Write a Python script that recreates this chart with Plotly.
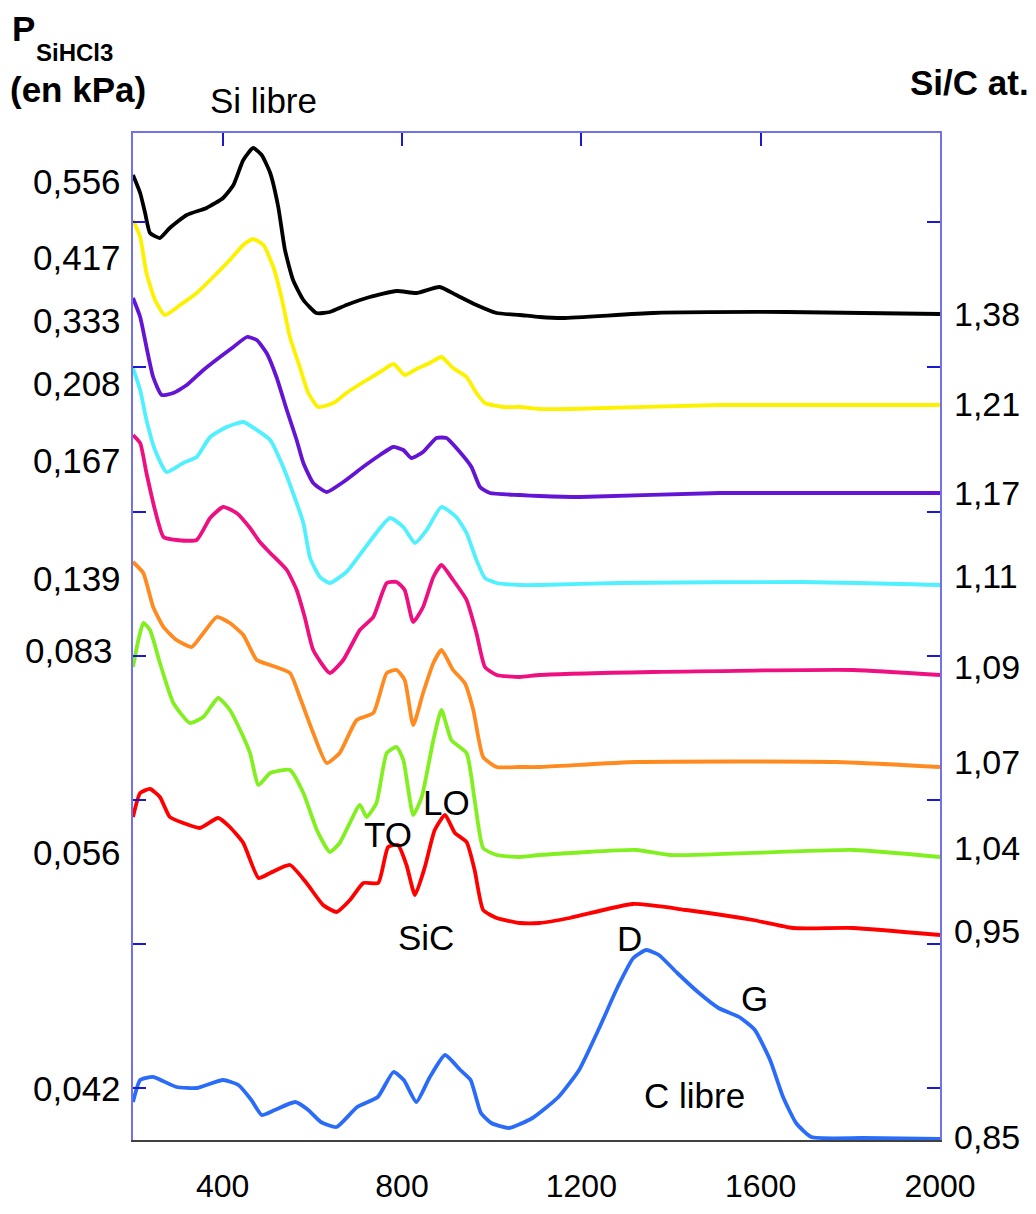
import plotly.graph_objects as go

# Raman spectra, stacked (wavenumber in cm-1, intensity in arbitrary units incl. offset)
x_138 = [200, 216, 227, 238, 260, 282, 320, 364, 401, 424, 446, 468, 487, 506, 524, 539, 557, 580, 609,
         639, 676, 728, 788, 832, 884, 921, 966, 1011, 1063, 1107, 1159, 1360, 1657, 2000]
y_138 = [965, 947, 927, 907, 902, 912, 925, 932, 942, 955, 980, 992, 985, 967, 933, 890, 860, 840, 827,
         828, 835, 843, 849, 847, 853, 845, 835, 827, 825, 823, 822, 827, 828, 826]

x_121 = [200, 216, 230, 249, 271, 305, 342, 379, 416, 446, 468, 491, 513, 531, 550, 572, 591, 613, 647,
         676, 714, 751, 781, 806, 832, 862, 888, 914, 944, 966, 985, 1026, 1063, 1107, 1174, 1509, 2000]
y_121 = [920, 903, 867, 840, 825, 835, 847, 863, 880, 895, 901, 895, 873, 843, 803, 773, 747, 733, 737,
         747, 758, 768, 776, 765, 771, 777, 783, 772, 763, 747, 737, 733, 733, 731, 731, 735, 735]

x_117 = [200, 216, 230, 245, 264, 290, 320, 357, 394, 424, 454, 476, 498, 520, 543, 565, 580, 602, 632,
         669, 713, 751, 780, 803, 821, 847, 877, 899, 929, 955, 974, 996, 1063, 1107, 1197, 1509, 2000]
y_117 = [842, 823, 793, 763, 745, 747, 755, 770, 783, 793, 803, 800, 787, 763, 730, 700, 677, 657, 648,
         658, 673, 685, 693, 690, 682, 688, 702, 702, 688, 673, 653, 647, 645, 644, 643, 647, 647]

x_111 = [200, 216, 230, 249, 275, 312, 342, 372, 409, 446, 476, 506, 535, 557, 580, 595, 617, 639, 676,
         714, 773, 803, 829, 855, 888, 921, 944, 966, 985, 1011, 1063, 1107, 1286, 1694, 2000]
y_111 = [772, 750, 720, 690, 668, 677, 683, 703, 713, 718, 710, 700, 673, 647, 617, 582, 563, 557, 568,
         590, 622, 613, 597, 610, 633, 623, 607, 580, 562, 557, 555, 555, 557, 558, 555]

x_109 = [200, 216, 230, 249, 268, 297, 342, 372, 401, 431, 461, 483, 506, 543, 565, 583, 602, 639, 669,
         706, 736, 766, 788, 806, 825, 847, 870, 888, 914, 944, 966, 985, 1011, 1063, 1107, 1360, 1806, 2000]
y_109 = [705, 697, 667, 630, 603, 600, 600, 622, 633, 627, 612, 598, 587, 570, 550, 523, 490, 467, 480,
         510, 523, 557, 558, 550, 518, 533, 563, 575, 560, 540, 507, 473, 465, 463, 465, 468, 470, 465]

x_107 = [200, 223, 245, 268, 297, 331, 357, 387, 416, 446, 476, 506, 550, 572, 602, 632, 661, 699, 736,
         766, 788, 806, 825, 847, 870, 888, 914, 940, 959, 981, 1011, 1063, 1107, 1323, 1769, 2000]
y_107 = [578, 567, 533, 513, 500, 493, 507, 523, 517, 505, 480, 475, 467, 443, 407, 377, 387, 420, 427,
         467, 470, 460, 415, 447, 477, 490, 470, 457, 430, 383, 373, 373, 373, 378, 378, 373]

x_104 = [200, 212, 223, 238, 260, 290, 327, 357, 390, 416, 439, 461, 480, 506, 550, 580, 610, 639, 661,
         706, 721, 743, 766, 788, 803, 825, 844, 870, 888, 910, 944, 962, 981, 1011, 1063, 1107, 1323, 1397,
         1806, 2000]
y_104 = [473, 500, 517, 510, 477, 437, 417, 423, 442, 430, 410, 387, 355, 367, 370, 347, 310, 288, 297,
         335, 323, 337, 387, 393, 380, 325, 343, 400, 430, 400, 387, 340, 292, 285, 283, 285, 290, 285,
         290, 283]

x_095 = [200, 216, 238, 260, 282, 312, 349, 390, 416, 446, 480, 506, 550, 587, 624, 654, 684, 714, 747,
         769, 791, 810, 829, 851, 873, 896, 918, 944, 962, 981, 1011, 1063, 1107, 1174, 1315, 1434, 1583,
         1672, 1806, 2000]
y_095 = [323, 347, 351, 343, 323, 317, 312, 322, 313, 297, 262, 267, 275, 257, 235, 228, 240, 257, 257,
         293, 295, 275, 245, 273, 310, 325, 307, 298, 270, 230, 222, 217, 217, 222, 236, 230, 220,
         212, 212, 205]

x_085 = [200, 216, 245, 297, 343, 401, 435, 464, 487, 516, 562, 591, 619, 654, 700, 746, 781, 804, 832,
         861, 896, 930, 953, 976, 999, 1039, 1091, 1149, 1195, 1241, 1281, 1316, 1345, 1373, 1414, 1460,
         1506, 1552, 1587, 1621, 1650, 1679, 1713, 1828, 2000]
y_085 = [38, 60, 63, 53, 52, 60, 55, 40, 25, 30, 38, 30, 18, 13, 33, 43, 68, 60, 38,
         62, 85, 70, 60, 27, 17, 12, 22, 43, 70, 113, 153, 182, 190, 185, 167, 148,
         132, 123, 110, 80, 43, 17, 3, 2, 1]

series_x = [x_138, x_121, x_117, x_111, x_109, x_107, x_104, x_095, x_085]
series_y = [y_138, y_121, y_117, y_111, y_109, y_107, y_104, y_095, y_085]
colors = ["#000000", "#fcf200", "#6414d4", "#50f0ff", "#ee1080", "#ff8a20", "#82f020", "#ff0000", "#2a6cf8"]

pressure_labels = ["0,556", "0,417", "0,333", "0,208", "0,167", "0,139", "0,083", "0,056", "0,042"]
pressure_label_y = [959, 883, 820, 757, 680, 562, 490, 288, 52]
sic_labels = ["1,38", "1,21", "1,17", "1,11", "1,09", "1,07", "1,04", "0,95", "0,85"]
sic_label_y = [826, 736, 647, 564, 473, 378, 292, 209, 3]

x_ticks = [400, 800, 1200, 1600, 2000]
y_ticks = [52, 196, 340, 484, 628, 773, 918]

FONT = "Liberation Sans, Arial, sans-serif"
FRAME = "#7272e8"
TICK = "#1a1acc"

fig = go.Figure()
for xs, ys, c in zip(series_x, series_y, colors):
    fig.add_trace(go.Scatter(x=xs, y=ys, mode="lines",
                             line=dict(color=c, width=3.8, shape="spline", smoothing=0.5),
                             showlegend=False, hoverinfo="skip"))
# empty trace so the overlay axes (top / right) get drawn
fig.add_trace(go.Scatter(x=[None], y=[None], xaxis="x2", yaxis="y2", showlegend=False, hoverinfo="skip"))

# page body has an 8px margin, so the figure is a bit smaller than the window
OFF = 8
W, H = 1036 - 2 * OFF, 1214 - 2 * OFF
L, R, T, B = 133, 940, 133, 1140  # plot area in window pixels


def px(xp):
    return (xp - L) / (R - L)


def py(yp):
    return (B - yp) / (B - T)


ann = []
for txt, yv in zip(pressure_labels, pressure_label_y):
    ann.append(dict(text=txt, xref="paper", yref="y", x=px(123 if txt != "0,083" else 115), y=yv,
                    xanchor="right", yanchor="middle", showarrow=False, font=dict(size=35)))
for txt, yv in zip(sic_labels, sic_label_y):
    ann.append(dict(text=txt, xref="paper", yref="y", x=px(952), y=yv,
                    xanchor="left", yanchor="middle", showarrow=False, font=dict(size=34)))

# peak labels inside the plot
for txt, xv, yv in [("TO", 768, 306), ("LO", 900, 338), ("SiC", 853, 203),
                    ("D", 1308, 202), ("G", 1587, 142), ("C libre", 1453, 45)]:
    ann.append(dict(text=txt, x=xv, y=yv, xref="x", yref="y", showarrow=False,
                    xanchor="center", yanchor="middle", font=dict(size=35)))

ann += [
    dict(text="Si libre", xref="paper", yref="paper", x=px(263), y=py(100), showarrow=False,
         xanchor="center", yanchor="middle", font=dict(size=35)),
    dict(text="<b>P</b>", xref="paper", yref="paper", x=px(10), y=py(29), showarrow=False,
         xanchor="left", yanchor="middle", font=dict(size=35)),
    dict(text="<b>SiHCl3</b>", xref="paper", yref="paper", x=px(34), y=py(53), showarrow=False,
         xanchor="left", yanchor="middle", font=dict(size=24)),
    dict(text="<b>(en kPa)</b>", xref="paper", yref="paper", x=px(8), y=py(90), showarrow=False,
         xanchor="left", yanchor="middle", font=dict(size=35)),
    dict(text="<b>Si/C at.</b>", xref="paper", yref="paper", x=px(1031), y=py(82), showarrow=False,
         xanchor="right", yanchor="middle", font=dict(size=35)),
]

fig.update_layout(
    width=W, height=H,
    margin=dict(l=L - OFF, r=W - (R - OFF), t=T - OFF, b=H - (B - OFF)),
    paper_bgcolor="white", plot_bgcolor="white",
    font=dict(family=FONT, size=32, color="black"),
    annotations=ann,
    xaxis=dict(range=[200, 2000], showgrid=False, zeroline=False, showline=True,
               linecolor="#404040", linewidth=1.5, ticks="", tickvals=x_ticks,
               ticktext=[str(v) for v in x_ticks], ticklabelstandoff=17, automargin=False,
               tickfont=dict(size=32)),
    xaxis2=dict(range=[200, 2000], overlaying="x", side="top", showgrid=False, zeroline=False,
                showline=True, linecolor=FRAME, linewidth=1.5, ticks="inside", ticklen=13,
                tickcolor=TICK, tickwidth=1.5, tickvals=x_ticks[:-1], showticklabels=False,
                automargin=False),
    yaxis=dict(range=[0, B - T], showgrid=False, zeroline=False, showline=True,
               linecolor=FRAME, linewidth=1.5, ticks="inside", ticklen=13, tickcolor=TICK,
               tickwidth=1.5, tickvals=y_ticks, showticklabels=False, automargin=False),
    yaxis2=dict(range=[0, B - T], overlaying="y", side="right", showgrid=False, zeroline=False,
                showline=True, linecolor=FRAME, linewidth=2, ticks="inside", ticklen=13,
                tickcolor=TICK, tickwidth=1.5, tickvals=y_ticks, showticklabels=False,
                automargin=False),
)

fig.write_html("out.html")
